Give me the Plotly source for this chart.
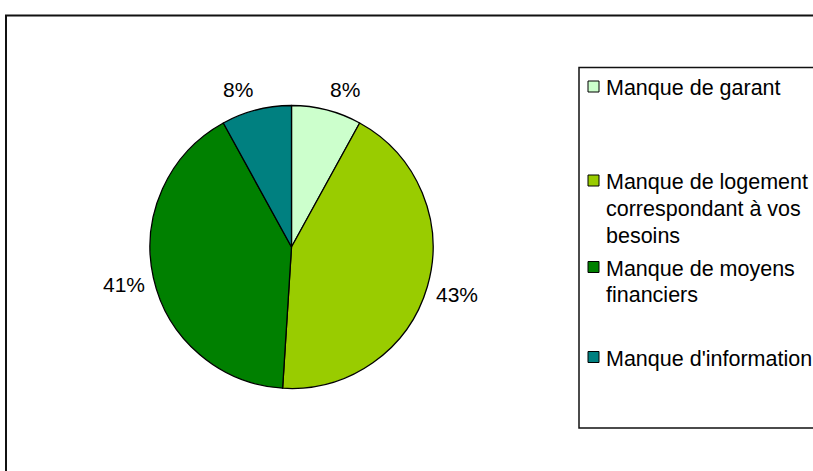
import math
import plotly.graph_objects as go

# Survey answers: main obstacles to finding housing
labels = [
    "Manque de garant",
    "Manque de logement correspondant à vos besoins",
    "Manque de moyens financiers",
    "Manque d'information",
]
legend_lines = [
    ["Manque de garant"],
    ["Manque de logement", "correspondant à vos", "besoins"],
    ["Manque de moyens", "financiers"],
    ["Manque d'information"],
]
shares = [8, 43, 41, 8]
colors = ["#CCFFCC", "#99CC00", "#008000", "#008080"]

W, H = 813, 471
FONT = "Liberation Sans, Arial, sans-serif"


def px_x(v):
    return v / W


def px_y(v):
    return 1 - v / H


# pie placement (pixels)
cx, cy, r = 291.5, 247, 141.5

fig = go.Figure(
    go.Pie(
        labels=labels,
        values=shares,
        sort=False,
        direction="clockwise",
        rotation=0,
        marker=dict(colors=colors, line=dict(color="black", width=1.3)),
        textinfo="none",
        showlegend=False,
        hoverinfo="label+percent",
        domain=dict(
            x=[px_x(cx - r), px_x(cx + r)],
            y=[px_y(cy + r), px_y(cy - r)],
        ),
    )
)

annotations = []

# percentage labels just outside each slice, at its mid-angle
total = sum(shares)
label_r = r + 8
cum = 0
for v in shares:
    mid = (cum + v / 2) / total * 2 * math.pi
    cum += v
    dx, dy = math.sin(mid), -math.cos(mid)
    annotations.append(dict(
        text=f"{round(100 * v / total)}%",
        xref="paper", yref="paper",
        x=px_x(cx + label_r * dx),
        y=px_y(cy + label_r * dy + 15 * dy + 2),
        xanchor="left" if dx > 0 else "right",
        yanchor="middle",
        showarrow=False, borderpad=0,
        font=dict(family=FONT, size=21, color="black"),
    ))

shapes = [
    # chart frame
    dict(type="rect", xref="paper", yref="paper",
         x0=px_x(6), x1=px_x(W + 20), y0=px_y(H + 20), y1=px_y(15.5),
         line=dict(color="#111", width=2), fillcolor="rgba(0,0,0,0)"),
    # legend frame
    dict(type="rect", xref="paper", yref="paper",
         x0=px_x(579), x1=px_x(W + 20), y0=px_y(428), y1=px_y(67.5),
         line=dict(color="#111", width=1.5), fillcolor="rgba(0,0,0,0)"),
]

# legend rows: vertical middle of the first line of each entry
row_mid = [86.5, 180.5, 267, 357]
line_step = 26.8
for lines, col, mid_y in zip(legend_lines, colors, row_mid):
    shapes.append(dict(type="rect", xref="paper", yref="paper",
                       x0=px_x(588), x1=px_x(599),
                       y0=px_y(mid_y + 5.5), y1=px_y(mid_y - 5.5),
                       line=dict(color="black", width=1), fillcolor=col))
    for i, line in enumerate(lines):
        annotations.append(dict(
            text=line, xref="paper", yref="paper",
            x=px_x(605), y=px_y(mid_y + i * line_step + 1.5),
            xanchor="left", yanchor="middle", align="left", showarrow=False,
            borderpad=0,
            font=dict(family=FONT, size=21.5, color="black"),
        ))

fig.update_layout(
    width=W, height=H,
    margin=dict(l=0, r=0, t=0, b=0),
    paper_bgcolor="white",
    plot_bgcolor="white",
    shapes=shapes,
    annotations=annotations,
)

fig.write_html("out.html")
